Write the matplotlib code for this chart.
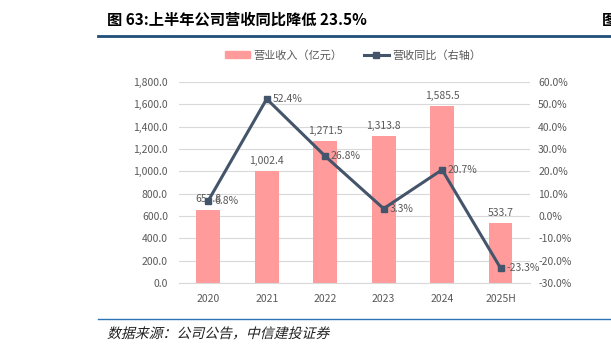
import matplotlib
matplotlib.use("Agg")
import matplotlib.pyplot as plt
from matplotlib.lines import Line2D
from matplotlib.patches import Patch, PathPatch
from matplotlib.textpath import TextPath
from matplotlib.font_manager import FontProperties
from matplotlib.transforms import Affine2D

plt.rcParams['font.family'] = ['Noto Sans CJK SC', 'DejaVu Sans']

years = ["2020", "2021", "2022", "2023", "2024", "2025H"]
revenue = [657.8, 1002.4, 1271.5, 1313.8, 1585.5, 533.7]
growth = [6.8, 52.4, 26.8, 3.3, 20.7, -23.3]

bar_color = "#ff9b9b"
line_color = "#44546a"
text_color = "#595959"


def main():
    fig = plt.figure(figsize=(6.11, 3.55), dpi=100)
    ax = fig.add_axes([0.293, 0.203, 0.574, 0.566])
    ax2 = ax.twinx()

    x = list(range(len(years)))
    ax.bar(x, revenue, width=0.41, color=bar_color, zorder=2)
    for xi, v in zip(x, revenue):
        ax.text(xi, v + 45, f"{v:,.1f}", ha="center", va="bottom",
                fontsize=7.5, color=text_color, zorder=5)

    ax2.plot(x, growth, color=line_color, lw=2.2, marker="s", markersize=5,
             zorder=4)
    for xi, g in zip(x, growth):
        ax2.text(xi + 0.1, g, f"{g:.1f}%", ha="left", va="center",
                 fontsize=7.5, color=text_color, zorder=5)

    ax.set_xlim(-0.5, len(years) - 0.5)
    ax.set_ylim(0, 1800)
    ax.set_yticks(range(0, 1801, 200))
    ax.set_yticklabels([f"{v:,.1f}" for v in range(0, 1801, 200)])
    ax2.set_ylim(-30, 60)
    ax2.set_yticks(range(-30, 61, 10))
    ax2.set_yticklabels([f"{v:.1f}%" for v in range(-30, 61, 10)])
    ax.set_xticks(x)
    ax.set_xticklabels(years)

    ax.grid(axis="y", color="#d9d9d9", lw=0.8, zorder=0)
    ax.set_axisbelow(True)
    for a in (ax, ax2):
        for s in a.spines.values():
            s.set_visible(False)
        a.tick_params(length=0, labelsize=7.5, colors=text_color)
    ax.tick_params(axis="x", pad=8)
    ax.tick_params(axis="y", pad=8)
    ax2.tick_params(axis="y", pad=6)
    ax.spines["bottom"].set_visible(True)
    ax.spines["bottom"].set_color("#d9d9d9")

    handles = [Patch(color=bar_color),
               Line2D([], [], color=line_color, lw=2.2, marker="s", markersize=5)]
    fig.legend(handles, ["营业收入（亿元）", "营收同比（右轴）"],
               loc="center", bbox_to_anchor=(0.578, 0.845), ncol=2, frameon=False,
               fontsize=8, labelcolor=text_color, handlelength=2.2,
               handleheight=0.6, columnspacing=2.0, handletextpad=0.3)

    fig.text(0.175, 0.945, "图 63:上半年公司营收同比降低 23.5%", fontsize=11,
             fontweight="bold", va="center", ha="left", color="black")
    fig.text(0.985, 0.945, "图", fontsize=11, fontweight="bold",
             va="center", ha="left", color="black")
    fig.add_artist(Line2D([0.16, 1.0], [1 - 36 / 355, 1 - 36 / 355],
                          color="#1f4e79", lw=2.0))
    fig.add_artist(Line2D([0.16, 1.0], [1 - 319 / 355, 1 - 319 / 355],
                          color="#2e75b6", lw=1.0))

    # slanted source line (CJK fonts have no italic face)
    tp = TextPath((0, 0), "数据来源：公司公告，中信建投证券", size=10,
                  prop=FontProperties(family="Noto Sans CJK SC", weight="light"))
    tr = (Affine2D().skew_deg(14, 0).scale(1 / 72).translate(1.07, 0.17)
          + fig.dpi_scale_trans)
    fig.add_artist(PathPatch(tp, transform=tr, color="#222222", lw=0))

    fig.savefig("out.png", dpi=100)


if __name__ == "__main__":
    main()
